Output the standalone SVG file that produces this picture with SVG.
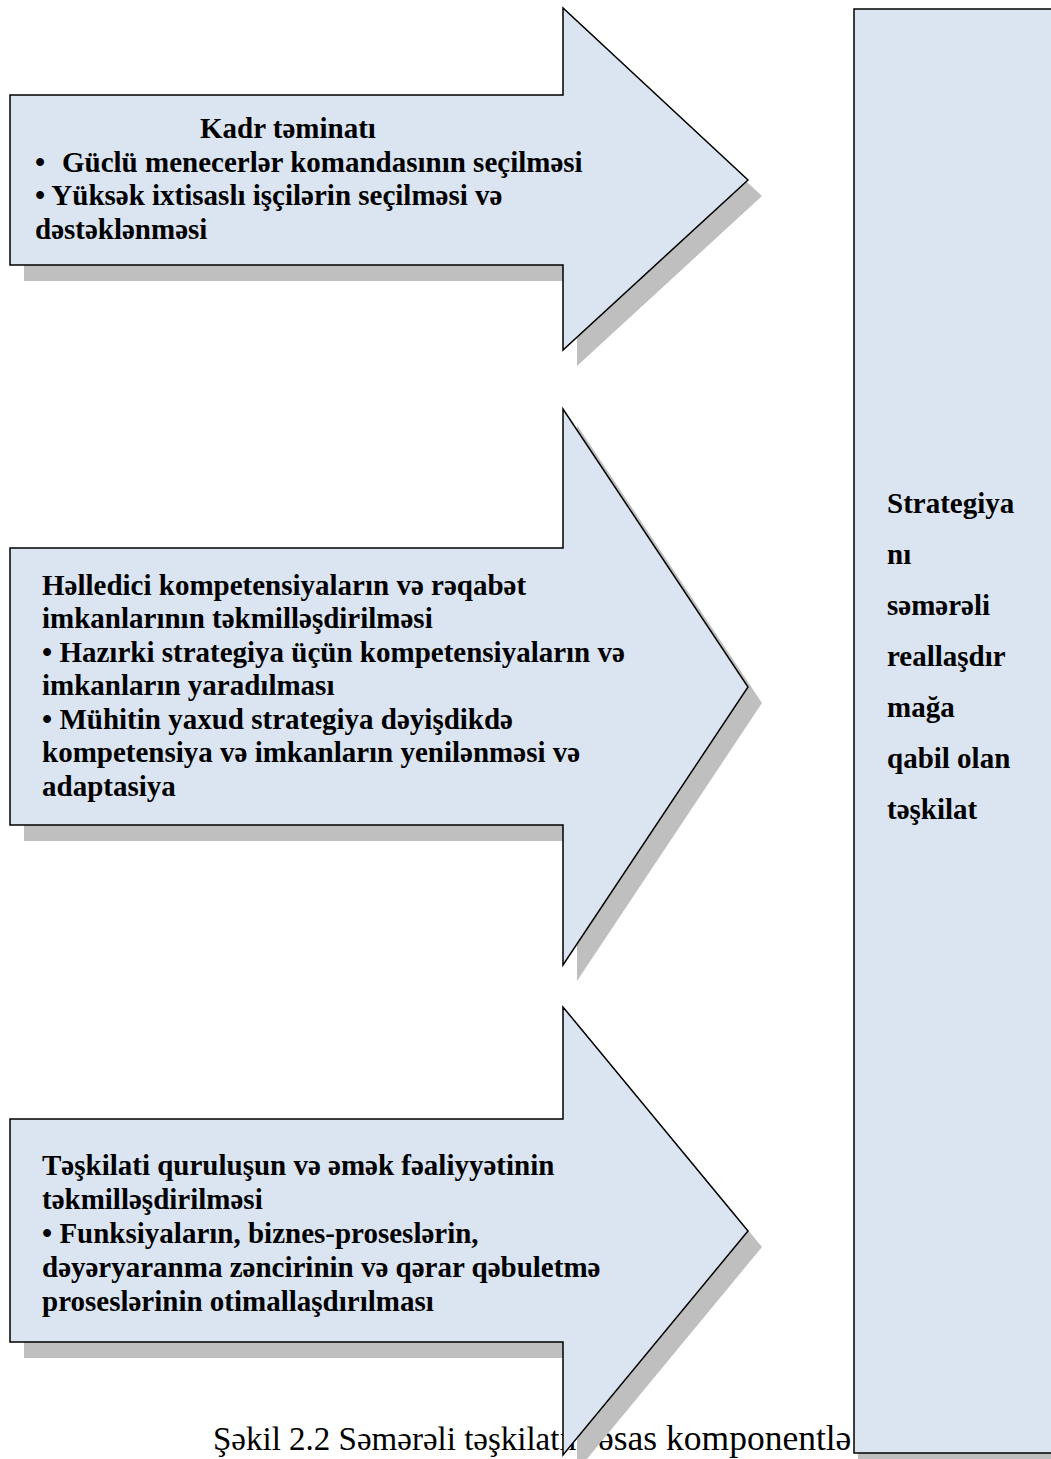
<svg xmlns="http://www.w3.org/2000/svg" width="1051" height="1459" viewBox="0 0 1051 1459">
<style>
.shadow{fill:#BFBFBF;stroke:none}
.shape{fill:#DBE5F1;stroke:#000;stroke-width:1.5;stroke-linejoin:miter}
.t{font-family:"Liberation Serif","Times New Roman",serif;font-weight:bold;font-size:29px;fill:#000}
.cap{font-family:"Liberation Serif","Times New Roman",serif;font-size:33px;fill:#000}
</style>
<rect x="0" y="0" width="1051" height="1459" fill="#fff"/>
<g id="caption">
<text class="cap" x="213" y="1450">Şəkil 2.2 Səmərəli təşkilatın <tspan x="598" font-size="35.5">əsas komponentlə</tspan></text>
</g>
<g id="connectors"/>
<g id="arrow-kadr">
<polygon class="shadow" points="24,111 577,111 577,24 762,196 577,366 577,281 24,281"/>
<polygon class="shape" points="10,95 563,95 563,8 748,180 563,350 563,265 10,265"/>
<text class="t" x="200" y="138">Kadr təminatı</text>
<text class="t" x="35" y="172">•<tspan x="62">Güclü menecerlər komandasının seçilməsi</tspan></text>
<text class="t" x="35" y="205">• Yüksək ixtisaslı işçilərin seçilməsi və</text>
<text class="t" x="35" y="239">dəstəklənməsi</text>
</g>
<g id="arrow-kompetensiya">
<polygon class="shadow" points="24,564 577,564 577,425 762,703 577,981 577,841 24,841"/>
<polygon class="shape" points="10,548 563,548 563,409 748,687 563,965 563,825 10,825"/>
<text class="t" x="42" y="595">Həlledici kompetensiyaların və rəqabət</text>
<text class="t" x="42" y="628">imkanlarının təkmilləşdirilməsi</text>
<text class="t" x="42" y="662">• Hazırki strategiya üçün kompetensiyaların və</text>
<text class="t" x="42" y="695">imkanların yaradılması</text>
<text class="t" x="42" y="729">• Mühitin yaxud strategiya dəyişdikdə</text>
<text class="t" x="42" y="762">kompetensiya və imkanların yenilənməsi və</text>
<text class="t" x="42" y="796">adaptasiya</text>
</g>
<g id="arrow-teskilati">
<polygon class="shadow" points="24,1135 577,1135 577,1023 762,1247 577,1471 577,1358 24,1358"/>
<polygon class="shape" points="10,1119 563,1119 563,1007 748,1231 563,1455 563,1342 10,1342"/>
<text class="t" x="42" y="1175">Təşkilati quruluşun və əmək fəaliyyətinin</text>
<text class="t" x="42" y="1209">təkmilləşdirilməsi</text>
<text class="t" x="42" y="1243">• Funksiyaların, biznes-proseslərin,</text>
<text class="t" x="42" y="1277">dəyəryaranma zəncirinin və qərar qəbuletmə</text>
<text class="t" x="42" y="1311">proseslərinin otimallaşdırılması</text>
</g>
<g id="result-box">
<rect class="shadow" x="858" y="13" width="210" height="1446"/>
<rect class="shape" x="854" y="9" width="210" height="1444" stroke-width="2"/>
<text class="t" x="887" y="513">Strategiya</text>
<text class="t" x="887" y="564">nı</text>
<text class="t" x="887" y="615">səmərəli</text>
<text class="t" x="887" y="666">reallaşdır</text>
<text class="t" x="887" y="717">mağa</text>
<text class="t" x="887" y="768">qabil olan</text>
<text class="t" x="887" y="819">təşkilat</text>
</g>
</svg>
